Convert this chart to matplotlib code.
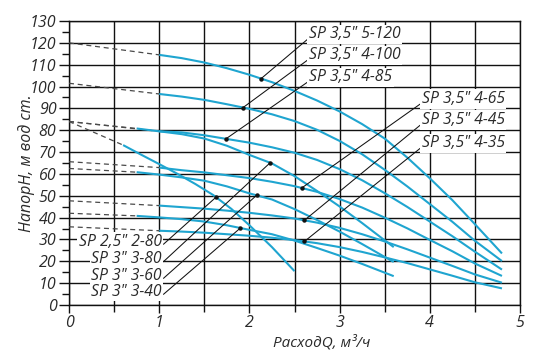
import matplotlib
matplotlib.use('Agg')
import matplotlib.pyplot as plt
import numpy as np

# ---------------- data ----------------
q_big = [1.0, 1.25, 1.5, 1.75, 2.0, 2.25, 2.5, 2.75, 3.0, 3.25, 3.5, 3.75, 4.0, 4.25, 4.5, 4.8]
H_5_120 = [114.5, 113.0, 111.0, 108.4, 105.4, 102.0, 98.0, 93.6, 88.6, 82.8, 76.2, 67.5, 58.0, 48.0, 37.0, 23.6]
H_4_100 = [96.6, 95.4, 93.9, 91.9, 89.8, 87.3, 84.2, 80.2, 75.1, 69.0, 61.9, 54.3, 46.2, 38.1, 29.4, 20.1]
H_4_85 = [79.5, 79.0, 77.7, 76.0, 74.3, 72.2, 69.7, 66.4, 62.2, 57.1, 51.2, 44.9, 38.2, 31.5, 24.4, 16.2]
H_4_65 = [62.9, 61.7, 60.7, 59.4, 58.1, 56.4, 54.4, 51.8, 48.5, 44.6, 40.0, 35.1, 29.8, 24.6, 19.0, 13.3]
H_4_45 = [45.5, 44.8, 44.1, 43.2, 42.2, 41.0, 39.6, 37.7, 35.3, 32.4, 29.1, 25.5, 21.7, 17.9, 14.0, 10.2]
H_4_35 = [34.0, 33.6, 33.1, 32.4, 31.7, 30.8, 29.7, 28.3, 26.5, 24.3, 21.8, 19.2, 16.3, 13.4, 10.4, 7.6]

q_3in = [0.75, 1.0, 1.25, 1.5, 1.75, 2.0, 2.25, 2.5, 2.75, 3.0, 3.25, 3.5, 3.6]
H_3_80 = [80.8, 79.5, 78.2, 76.2, 72.9, 68.7, 64.8, 59.0, 52.2, 45.1, 37.5, 29.6, 26.5]
H_3_60 = [60.8, 59.7, 58.4, 56.9, 54.3, 51.1, 48.3, 43.9, 38.9, 33.6, 27.9, 22.0, 19.7]
H_3_40 = [40.8, 40.1, 39.3, 38.2, 36.5, 34.4, 32.4, 29.5, 26.1, 22.6, 18.8, 14.8, 13.2]

q_2in = [0.6, 0.8, 1.0, 1.2, 1.4, 1.6, 1.8, 2.0, 2.25, 2.5]
H_2_80 = [73.2, 68.8, 64.5, 60.1, 55.4, 50.3, 44.0, 36.5, 26.5, 15.5]

# shut-off heads (dashed start at Q = 0)
H0 = {'5-120': 120, '4-100': 101.5, '4-85': 84, '4-65': 65.6, '4-45': 47.7,
      '4-35': 35.8, '3-80': 84, '3-60': 62.5, '3-40': 42, '2-80': 84}

names = ['5-120', '4-100', '4-85', '4-65', '4-45', '4-35', '3-80', '3-60', '3-40', '2-80']
labels = ['SP 3,5" 5-120', 'SP 3,5" 4-100', 'SP 3,5" 4-85', 'SP 3,5" 4-65',
          'SP 3,5" 4-45', 'SP 3,5" 4-35', 'SP 3" 3-80', 'SP 3" 3-60',
          'SP 3" 3-40', 'SP 2,5" 2-80']
series = {'5-120': (q_big, H_5_120), '4-100': (q_big, H_4_100), '4-85': (q_big, H_4_85),
          '4-65': (q_big, H_4_65), '4-45': (q_big, H_4_45), '4-35': (q_big, H_4_35),
          '3-80': (q_3in, H_3_80), '3-60': (q_3in, H_3_60), '3-40': (q_3in, H_3_40),
          '2-80': (q_2in, H_2_80)}

# label placement (layout) and the flow at which each leader touches its curve
label_pos = {'5-120': (2.66, 124.0), '4-100': (2.66, 114.4), '4-85': (2.66, 104.3),
             '4-65': (3.91, 94.3), '4-45': (3.91, 84.7), '4-35': (3.91, 74.1),
             '2-80': (1.03, 29.0), '3-80': (1.03, 21.0), '3-60': (1.03, 13.4), '3-40': (1.03, 6.1)}
dot_q = {'5-120': 2.13, '4-100': 1.93, '4-85': 1.74, '4-65': 2.58, '4-45': 2.61,
         '4-35': 2.61, '2-80': 1.63, '3-80': 2.23, '3-60': 2.08, '3-40': 1.9}

# ---------------- figure ----------------
plt.rcParams['font.family'] = ['Open Sans', 'DejaVu Sans']
plt.rcParams['font.style'] = 'italic'

fig = plt.figure(figsize=(5.4, 3.6), dpi=100)
ax = fig.add_axes([69 / 540, 55 / 360, 451 / 540, 284 / 360])

BLUE = '#1fa5d0'
TXT = '#2a2a2a'

for n in names:
    q, H = series[n]
    ax.plot([0, q[0]], [H0[n], H[0]], color='#4a4a4a', lw=0.9, ls=(0, (4, 3)), zorder=3)
    ax.plot(q, H, color=BLUE, lw=1.5, zorder=4, solid_capstyle='butt',
            solid_joinstyle='round')

for n, lab in zip(names, labels):
    q, H = series[n]
    dq = dot_q[n]
    dh = float(np.interp(dq, q, H))
    lx, ly = label_pos[n]
    left_side = lx < 1.5
    ax.annotate(lab, xy=(dq, dh), xytext=(lx, ly), textcoords='data',
                ha='right' if left_side else 'left', va='center', fontsize=11.3,
                color=TXT,
                bbox=dict(boxstyle='square,pad=0.1', fc='white', ec='none'),
                arrowprops=dict(arrowstyle='-', color='#111111', lw=0.75,
                                shrinkA=0, shrinkB=0,
                                relpos=(1, 0.25) if left_side else (0, 0.25)),
                zorder=5)
    ax.plot(dq, dh, 'o', ms=2.2, color='#111111', zorder=6)

ax.set_xlim(0, 5)
ax.set_ylim(0, 130)
ax.set_xticks(np.arange(0, 5.01, 1))
ax.set_xticks(np.arange(0.5, 5.0, 1.0), minor=True)
ax.set_yticks(np.arange(0, 131, 10))
ax.set_yticks(np.arange(5, 130, 10), minor=True)
ax.set_xticklabels([str(v) for v in range(0, 6)])
ax.set_yticklabels([str(v) for v in range(0, 131, 10)])

ax.set_axisbelow(True)
ax.grid(which='major', color='#111111', lw=1.0)
ax.grid(which='minor', axis='x', color='#111111', lw=1.0)
for s in ax.spines.values():
    s.set_color('#111111')
    s.set_linewidth(1.0)

ax.tick_params(axis='both', which='major', length=7, width=1.0, color='#111111',
               labelsize=11.5, labelcolor=TXT)
ax.tick_params(axis='both', which='minor', length=5, width=1.0, color='#111111')
ax.tick_params(axis='x', which='major', length=6, pad=1)
ax.tick_params(axis='y', which='major', pad=2)

ax.set_xlabel('РасходQ, м³/ч', fontsize=11, color=TXT)
ax.xaxis.set_label_coords(0.56, -0.105)
ax.set_ylabel('НапорН, м вод ст.', fontsize=11.5, color=TXT)
ax.yaxis.set_label_coords(-0.075, 0.5)

fig.savefig('out.png', dpi=100)
